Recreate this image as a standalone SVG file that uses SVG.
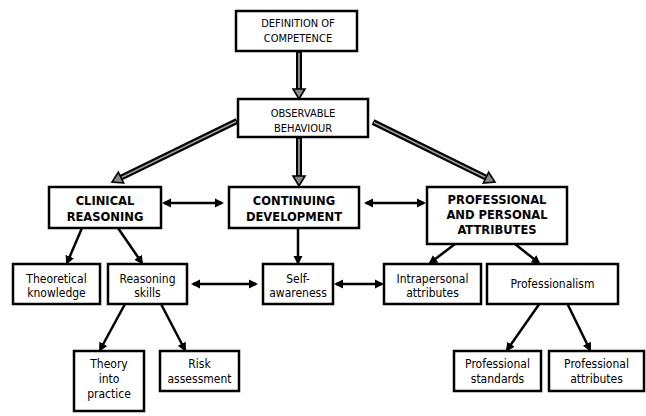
<svg xmlns="http://www.w3.org/2000/svg" width="646" height="416" viewBox="0 0 646 416">
<style>
  .box { fill: #fff; stroke: #000; stroke-width: 2.5; }
  text { font-family: "Liberation Sans Narrow", "DejaVu Sans Condensed", "Roboto Condensed", Roboto, sans-serif; text-anchor: middle; fill: #000; }
  .cap { font-size: 11px; }
  .bold { font-size: 12.8px; font-weight: bold; }
  .reg { font-size: 12px; }
  .thin { fill: none; stroke: #000; stroke-width: 2.5; }
  .hollowOut { fill: none; stroke: #000; stroke-width: 6; }
  .hollowIn { fill: none; stroke: #999; stroke-width: 1.8; }
</style>
<defs>
  <marker id="head" viewBox="0 -5 10 10" refX="7" refY="0" markerWidth="10" markerHeight="10" markerUnits="userSpaceOnUse" orient="auto-start-reverse">
    <path d="M0,-4.5 L9,0 L0,4.5 z" fill="#000"/>
  </marker>
  <marker id="hhead" viewBox="0 -8 12 16" refX="0" refY="0" markerWidth="12" markerHeight="16" markerUnits="userSpaceOnUse" orient="auto" overflow="visible">
    <path d="M0,-6 L10,0 L0,6 z" fill="#888" stroke="#000" stroke-width="1.6" stroke-linejoin="miter"/>
  </marker>
</defs>

<g id="connectors">
  <!-- hollow arrows -->
  <line class="hollowOut" x1="299" y1="51" x2="299" y2="89" marker-end="url(#hhead)"/>
  <line class="hollowIn" x1="299" y1="53" x2="299" y2="88"/>
  <line class="hollowOut" x1="299" y1="137" x2="299" y2="176" marker-end="url(#hhead)"/>
  <line class="hollowIn" x1="299" y1="139" x2="299" y2="175"/>
  <line class="hollowOut" x1="237" y1="121" x2="121" y2="177.6" marker-end="url(#hhead)"/>
  <line class="hollowIn" x1="236" y1="121.5" x2="121.9" y2="177.2"/>
  <line class="hollowOut" x1="373" y1="122" x2="486" y2="177.6" marker-end="url(#hhead)"/>
  <line class="hollowIn" x1="374" y1="122.5" x2="485.1" y2="177.2"/>

  <!-- thin arrows -->
  <line class="thin" x1="82" y1="228" x2="67" y2="263" marker-end="url(#head)"/>
  <line class="thin" x1="118" y1="228" x2="142" y2="263" marker-end="url(#head)"/>
  <line class="thin" x1="298" y1="228" x2="298" y2="263" marker-end="url(#head)"/>
  <line class="thin" x1="455" y1="244" x2="430" y2="263" marker-end="url(#head)"/>
  <line class="thin" x1="515" y1="244" x2="539" y2="263" marker-end="url(#head)"/>
  <line class="thin" x1="125" y1="304" x2="100" y2="350" marker-end="url(#head)"/>
  <line class="thin" x1="161" y1="304" x2="185" y2="350" marker-end="url(#head)"/>
  <line class="thin" x1="540" y1="303" x2="507" y2="350" marker-end="url(#head)"/>
  <line class="thin" x1="567" y1="303" x2="590" y2="350" marker-end="url(#head)"/>

  <!-- double arrows -->
  <line class="thin" x1="164" y1="203" x2="222" y2="203" marker-start="url(#head)" marker-end="url(#head)"/>
  <line class="thin" x1="366" y1="203" x2="424" y2="203" marker-start="url(#head)" marker-end="url(#head)"/>
  <line class="thin" x1="193" y1="284" x2="256" y2="284" marker-start="url(#head)" marker-end="url(#head)"/>
  <line class="thin" x1="336" y1="284" x2="382" y2="284" marker-start="url(#head)" marker-end="url(#head)"/>
</g>

<g id="definition">
  <rect class="box" x="236" y="11" width="121" height="40"/>
  <text class="cap" x="298" y="27">DEFINITION OF</text>
  <text class="cap" x="298" y="42">COMPETENCE</text>
</g>
<g id="observable">
  <rect class="box" x="238" y="99" width="130" height="38"/>
  <text class="cap" x="303" y="117">OBSERVABLE</text>
  <text class="cap" x="303" y="132">BEHAVIOUR</text>
</g>
<g id="clinical">
  <rect class="box" x="49" y="187" width="112" height="41"/>
  <text class="bold" x="105" y="205">CLINICAL</text>
  <text class="bold" x="105" y="221">REASONING</text>
</g>
<g id="continuing">
  <rect class="box" x="229" y="187" width="130" height="41"/>
  <text class="bold" x="294" y="205">CONTINUING</text>
  <text class="bold" x="294" y="221">DEVELOPMENT</text>
</g>
<g id="professional">
  <rect class="box" x="427" y="187" width="140" height="57"/>
  <text class="bold" x="497" y="204">PROFESSIONAL</text>
  <text class="bold" x="497" y="219">AND PERSONAL</text>
  <text class="bold" x="497" y="234">ATTRIBUTES</text>
</g>
<g id="theoretical">
  <rect class="box" x="13" y="264" width="87" height="40"/>
  <text class="reg" x="56.5" y="283">Theoretical</text>
  <text class="reg" x="56.5" y="297">knowledge</text>
</g>
<g id="reasoning">
  <rect class="box" x="108" y="264" width="79" height="40"/>
  <text class="reg" x="147.5" y="283">Reasoning</text>
  <text class="reg" x="147.5" y="297">skills</text>
</g>
<g id="self">
  <rect class="box" x="263" y="264" width="70" height="40"/>
  <text class="reg" x="298" y="283">Self-</text>
  <text class="reg" x="298" y="297">awareness</text>
</g>
<g id="intrapersonal">
  <rect class="box" x="384" y="264" width="97" height="40"/>
  <text class="reg" x="432.5" y="283">Intrapersonal</text>
  <text class="reg" x="432.5" y="297">attributes</text>
</g>
<g id="professionalism">
  <rect class="box" x="487" y="264" width="131" height="40"/>
  <text class="reg" x="552.5" y="288">Professionalism</text>
</g>
<g id="theory">
  <rect class="box" x="74" y="351" width="70" height="60"/>
  <text class="reg" x="109" y="368">Theory</text>
  <text class="reg" x="109" y="383">into</text>
  <text class="reg" x="109" y="398">practice</text>
</g>
<g id="risk">
  <rect class="box" x="160" y="351" width="79" height="40"/>
  <text class="reg" x="199.5" y="368">Risk</text>
  <text class="reg" x="199.5" y="383">assessment</text>
</g>
<g id="standards">
  <rect class="box" x="454" y="351" width="87" height="40"/>
  <text class="reg" x="497.5" y="368">Professional</text>
  <text class="reg" x="497.5" y="383">standards</text>
</g>
<g id="pattributes">
  <rect class="box" x="549" y="351" width="95" height="40"/>
  <text class="reg" x="596.5" y="368">Professional</text>
  <text class="reg" x="596.5" y="383">attributes</text>
</g>
</svg>
